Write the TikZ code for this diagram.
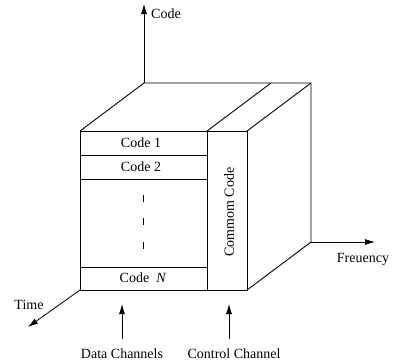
\documentclass[tikz,border=0pt]{standalone}
\usepackage{fontspec}
\setmainfont{Liberation Serif}
\usetikzlibrary{arrows.meta}
\begin{document}
\begin{tikzpicture}[x=1pt,y=-1pt,
  edge/.style={line width=0.9pt,black},
  axis/.style={line width=0.8pt,-{Latex[length=10pt,width=6pt]}},
  lbl/.style={font=\fontsize{14}{16}\selectfont,inner sep=0pt}]
\useasboundingbox (0,0) rectangle (393,362);
% cube corners
\coordinate (FTL) at (80,131);
\coordinate (FTR) at (247,131);
\coordinate (FBL) at (80,290);
\coordinate (FBR) at (247,290);
\coordinate (DT) at (207,131);
\coordinate (DB) at (207,290);
\coordinate (BTL) at (144,83);
\coordinate (BTR) at (311,83);
\coordinate (BBR) at (311,242);
\coordinate (BD) at (271,83);
% rows
\coordinate (R1L) at (80,155); \coordinate (R1R) at (207,155);
\coordinate (R2L) at (80,179); \coordinate (R2R) at (207,179);
\coordinate (R3L) at (80,267); \coordinate (R3R) at (207,267);
\draw[edge] (FTL) rectangle (FBR);
\draw[edge] (DT) -- (DB);
\draw[edge] (FTL) -- (BTL) -- (BTR) -- (BBR) -- (FBR);
\draw[edge] (FTR) -- (BTR);
\draw[edge] (DT) -- (BD);
\draw[edge] (R1L) -- (R1R);
\draw[edge] (R2L) -- (R2R);
\draw[edge] (R3L) -- (R3R);
% dashes
\coordinate (d1a) at (143,195); \coordinate (d1b) at (143,202);
\coordinate (d2a) at (143,218); \coordinate (d2b) at (143,225);
\coordinate (d3a) at (143,242); \coordinate (d3b) at (143,249);
\draw[line width=0.7pt] (d1a) -- (d1b) (d2a) -- (d2b) (d3a) -- (d3b);
% texts
\node[lbl] (c1) at (141,143) {Code 1};
\node[lbl] (c2) at (141,167) {Code 2};
\node[lbl] (cn) at (143,278) {Code\ \ \textit{N}};
\node[lbl,rotate=90] (cc) at (229,212) {Commom Code};
% axes
\coordinate (codetip) at (144,4);
\coordinate (timetip) at (28,327);
\coordinate (freqtip) at (375,242);
\draw[axis] (BTL) -- (codetip);
\draw[axis] (FBL) -- (timetip);
\draw[axis] (BBR) -- (freqtip);
\node[lbl,anchor=west] (codel) at (151,14) {Code};
\node[lbl] (timel) at (29,305) {Time};
\node[lbl] (freql) at (363,259) {Freuency};
% channel arrows
\coordinate (da) at (122,339); \coordinate (db) at (122,304);
\coordinate (ca) at (229,339); \coordinate (cb) at (229,304);
\draw[axis] (da) -- (db);
\draw[axis] (ca) -- (cb);
\node[lbl] (dl) at (122,354) {Data Channels};
\node[lbl] (cl) at (234,354) {Control Channel};
\end{tikzpicture}
\end{document}
